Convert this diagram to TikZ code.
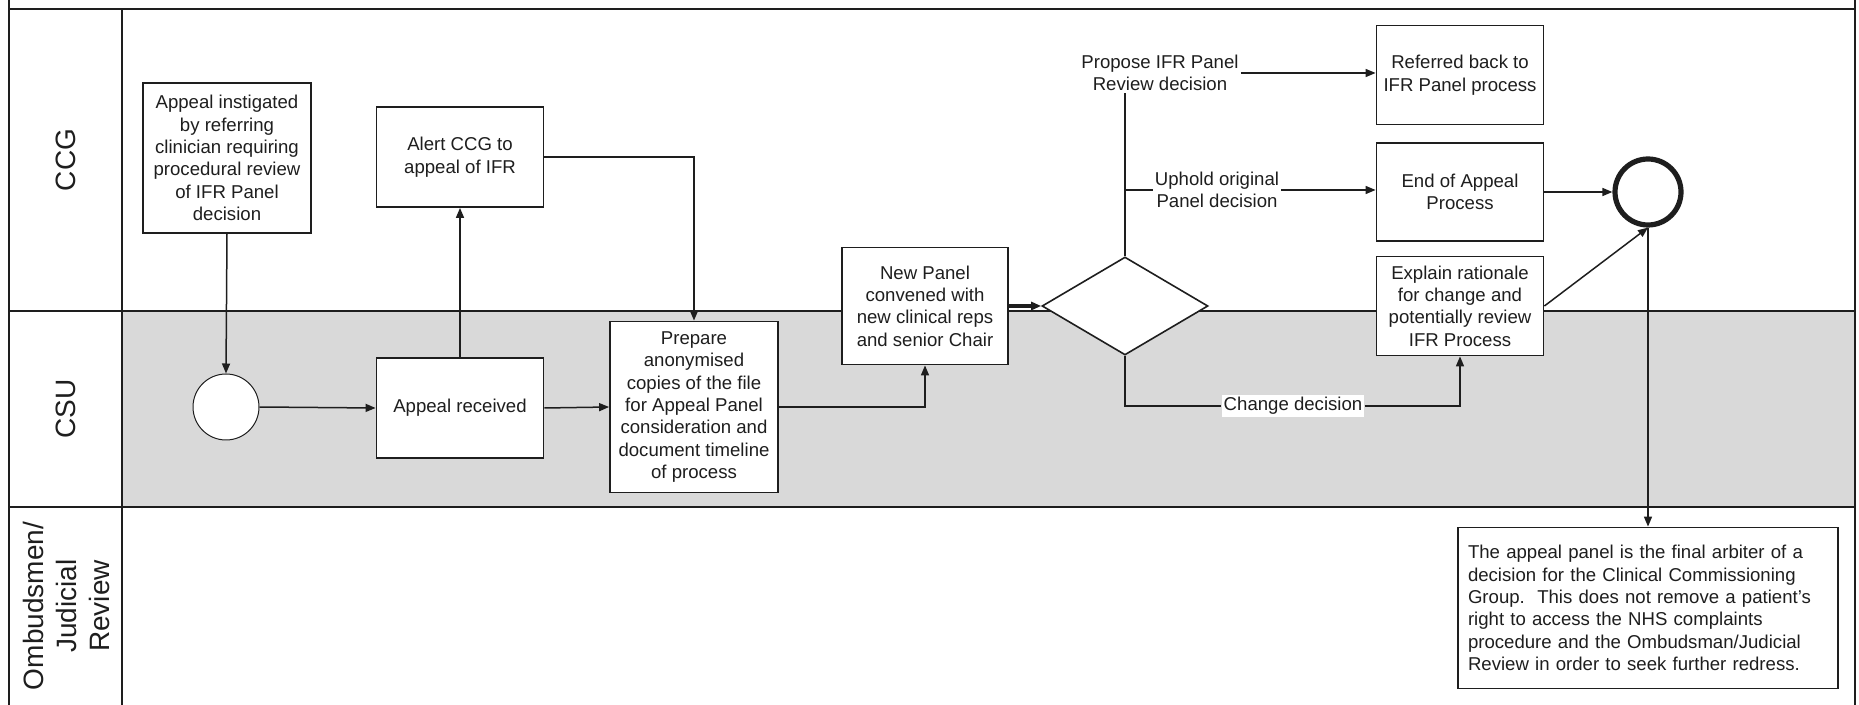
\documentclass[tikz,border=0pt]{standalone}
\usepackage{fontspec}
\setmainfont{Liberation Sans}
\usepackage{tikz}
\usepackage{xcolor}
\usetikzlibrary{arrows.meta,positioning,shapes.geometric,calc}
\definecolor{ink}{HTML}{1E1E1E}
\definecolor{lanegray}{HTML}{D9D9D9}
\newcommand{\boxfont}{\fontsize{9.3}{11.2}\selectfont}
\newcommand{\lanefont}{\fontsize{14}{16.5}\selectfont}
\tikzset{
  box/.style={draw=ink,fill=white,line width=0.9pt,align=center,
              inner sep=2pt,font=\boxfont,text=ink},
  notebox/.style={draw=ink,fill=white,line width=0.9pt,align=left,
                  inner xsep=5pt,inner ysep=3pt,font=\boxfont,text=ink},
  decision/.style={diamond,draw=ink,fill=white,line width=0.8pt,
                   inner sep=0pt,minimum width=83pt,minimum height=49pt},
  startev/.style={circle,draw=ink,fill=white,line width=0.5pt,
                  minimum size=33pt,inner sep=0pt},
  endev/.style={circle,draw=ink,fill=white,line width=2.6pt,
                minimum size=33pt,inner sep=0pt},
  flowlbl/.style={align=center,inner sep=1pt,font=\boxfont,text=ink},
  lanelbl/.style={rotate=90,align=center,font=\lanefont,text=ink},
  laneline/.style={draw=ink,line width=1pt},
  arr/.style={-{Triangle[length=5pt,width=4pt]},line width=0.75pt,draw=ink},
  plain/.style={line width=0.75pt,draw=ink}
}

\begin{document}
\begin{tikzpicture}[x=0.5pt,y=-0.5pt]
    \useasboundingbox (0,0) rectangle (1859,705);
    % swimlanes
    \fill[lanegray] (122,311) rectangle (1855,507);
    \draw[laneline] (9,0) -- (9,705);
    \draw[laneline] (1855,0) -- (1855,705);
    \draw[laneline] (9,9) -- (1855,9);
    \draw[laneline] (122,9) -- (122,705);
    \foreach \yy in {311,507}{
      \draw[laneline] (9,\yy) -- (1855,\yy);
    }
    \node[lanelbl] (ccglbl) at (66,160) {CCG};
    \node[lanelbl] (csulbl) at (66,409) {CSU};
    \node[lanelbl] (omblbl) at (66,606) {Ombudsmen/\\Judicial\\Review};
    % activities
    \node[box,minimum width=84pt,minimum height=75pt] (instig) at (227,158)
      {Appeal instigated\\by referring\\clinician requiring\\procedural review\\of IFR Panel\\decision};
    \node[box,minimum width=83.5pt,minimum height=50pt] (alert) at (460,157)
      {Alert CCG to\\appeal of IFR};
    \node[startev] (start) at (226,407) {};
    \node[box,minimum width=83.5pt,minimum height=50pt] (received) at (460,408)
      {Appeal received};
    \node[box,minimum width=84pt,minimum height=85.5pt] (prepare) at (694,407)
      {Prepare\\anonymised\\copies of the file\\for Appeal Panel\\consideration and\\document timeline\\of process};
    \node[box,minimum width=83pt,minimum height=58.5pt] (newpanel) at (925,306)
      {New Panel\\convened with\\new clinical reps\\and senior Chair};
    \node[decision] (dec) at (1125,306) {};
    \node[flowlbl] (propose) at (1160,73) {Propose IFR Panel\\Review decision};
    \node[flowlbl] (uphold) at (1217,190) {Uphold original\\Panel decision};
    \node[box,minimum width=83.5pt,minimum height=49.5pt] (referred) at (1460,75)
      {Referred back to\\IFR Panel process};
    \node[box,minimum width=83.5pt,minimum height=49pt] (endapp) at (1460,192)
      {End of Appeal\\Process};
    \node[box,minimum width=83.5pt,minimum height=49.5pt] (explain) at (1460,306)
      {Explain rationale\\for change and\\potentially review\\IFR Process};
    \node[endev] (stop) at (1648,192) {};
    \node[flowlbl,fill=white] (chg) at (1293,406) {Change decision};
    \node[notebox,text width=180pt,minimum height=80.5pt] (note) at (1648,608)
      {The appeal panel is the final arbiter of a\\
       decision for the Clinical Commissioning\\
       Group.\ \ This does not remove a patient's\\
       right to access the NHS complaints\\
       procedure and the Ombudsman/Judicial\\
       Review in order to seek further redress.};
    % flow
    \draw[arr] (instig.south) -- (start.north);
    \draw[arr] (start.east) -- (received.west);
    \draw[arr] (received.north) -- (alert.south);
    \draw[arr] (alert.east) -| (prepare.north);
    \draw[arr] (received.east) -- (prepare.west);
    \draw[arr] (prepare.east) -| (newpanel.south);
    \draw[arr,line width=1.6pt] (newpanel.east) -- (dec.west);
    \draw[plain] (dec.north) -- (dec.north |- propose.south);
    \draw[arr] (propose.east) -- (propose.east -| referred.west);
    \draw[plain] (dec.north |- uphold.west) -- (uphold.west);
    \draw[arr] (uphold.east) -- (uphold.east -| endapp.west);
    \draw[plain] (dec.south) |- (chg.west);
    \draw[arr] (chg.east) -| (explain.south);
    \draw[arr] (endapp.east) -- (stop.west);
    \draw[arr] (explain.east) -- (stop.south);
    \draw[arr] (stop.south) -- (note.north);
  \end{tikzpicture}
\end{document}
